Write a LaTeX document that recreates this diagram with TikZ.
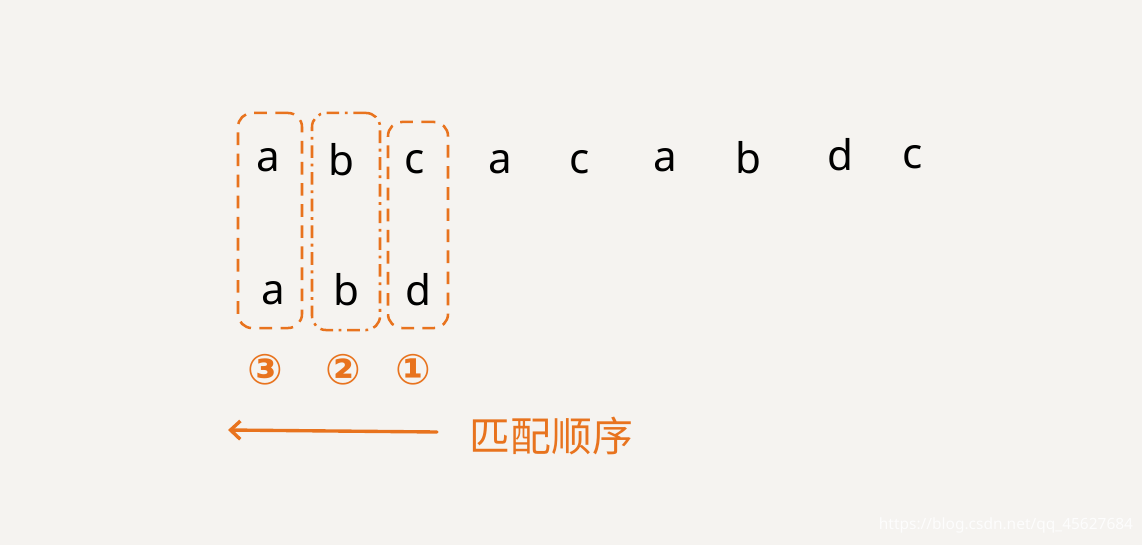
\documentclass[tikz,border=0pt]{standalone}
\usepackage{fontspec}
\setmainfont{Noto Sans}
\newfontfamily\cjkfont{Noto Sans CJK SC}
\newfontfamily\symfont{DejaVu Sans}
\usetikzlibrary{arrows.meta}
\definecolor{paper}{HTML}{F5F3F0}
\definecolor{pen}{HTML}{E8731E}
\tikzset{
  letter/.style={font=\fontsize{30}{36}\selectfont, text=black, inner sep=0pt},
  window/.style={draw=pen, line width=1.8pt, dashed, dash pattern=on 9pt off 6pt,
    rounded corners=10pt, minimum width=#1, inner sep=0pt},
  order/.style={font=\symfont\bfseries\fontsize{30}{34}\selectfont, text=pen, inner sep=0pt},
}
\begin{document}
\begin{tikzpicture}[x=0.025cm, y=-0.025cm]
  \fill[paper] (0,0) rectangle (1142,545);
  \useasboundingbox (0,0) rectangle (1142,545);

  \node[window=1.6cm, minimum height=5.375cm] (W3) at (270,220.5) {};
  \node[window=1.7cm, minimum height=5.425cm, dash pattern=on 9pt off 4pt on 2pt off 4pt] (W2) at (346,221.5) {};
  \node[window=1.5cm, minimum height=5.15cm] (W1) at (418,225) {};

  \node[letter] (T1) at (268,160) {a};
  \node[letter] (T2) at (341,160) {b};
  \node[letter] (T3) at (415,162) {c};
  \node[letter] (T4) at (500,162) {a};
  \node[letter] (T5) at (580,162) {c};
  \node[letter] (T6) at (665,160) {a};
  \node[letter] (T7) at (748,158) {b};
  \node[letter] (T8) at (840,155) {d};
  \node[letter] (T9) at (913,157) {c};

  \node[letter] (P1) at (273,293) {a};
  \node[letter] (P2) at (346,290) {b};
  \node[letter] (P3) at (418,290) {d};

  \node[order] (N3) at (265,370) {③};
  \node[order] (N2) at (343,370) {②};
  \node[order] (N1) at (413,370) {①};

  \coordinate (from) at (437,432);
  \coordinate (to) at (228,430);
  \draw[pen, line width=2.4pt, line cap=round, -{Straight Barb[length=7pt, width=13pt]}] (from) -- (to);
  \node[font=\cjkfont\fontsize{29}{32}\selectfont, text=pen, anchor=west] (label) at (465,436) {匹配顺序};

  \node[font=\fontsize{11}{13}\selectfont, text=white!85!paper, anchor=east] (mark) at (1138,525) {https://blog.csdn.net/qq\_45627684};
\end{tikzpicture}
\end{document}
